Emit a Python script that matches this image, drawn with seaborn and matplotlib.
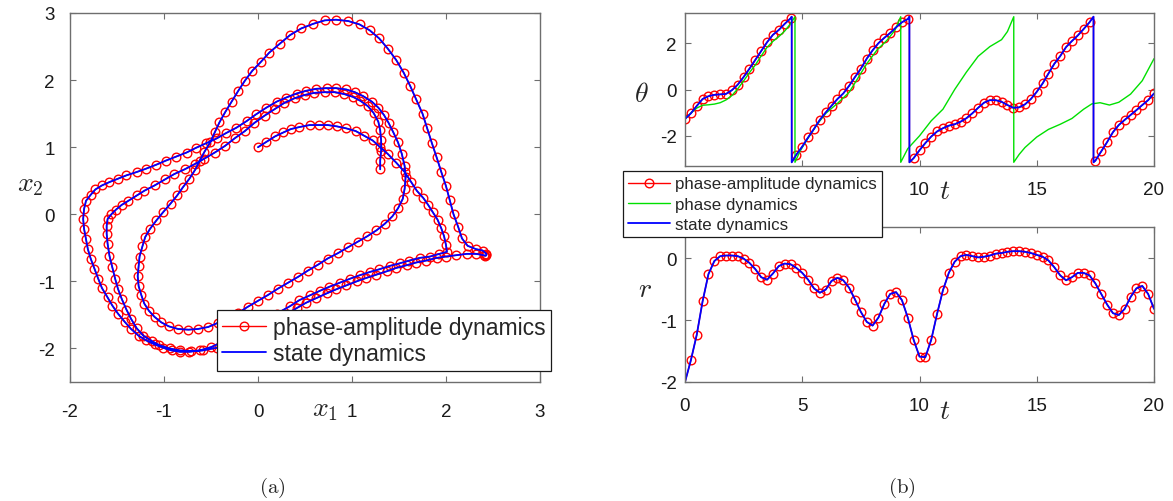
import numpy as np
import pandas as pd
import seaborn as sns
import matplotlib
matplotlib.use("Agg")
import matplotlib.pyplot as plt
from matplotlib.lines import Line2D

# ---------------- data: (a) trajectory in the (x1, x2) plane ----------------
traj_x1 = [
    0.00, 0.09, 0.18, 0.27, 0.35, 0.44, 0.55, 0.65, 0.74, 0.84, 0.94, 1.04, 1.13, 1.22, 1.30, 1.38, 1.47, 1.56,
    1.63, 1.69, 1.76, 1.81, 1.86, 1.91, 1.95, 1.98, 2.00, 2.01,
    1.93, 1.83, 1.72, 1.61, 1.51, 1.40, 1.29, 1.19, 1.08, 0.98, 0.87, 0.76, 0.66, 0.55, 0.44, 0.34,
    0.20, 0.05, -0.09, -0.23, -0.37, -0.50,
    -0.62, -0.73, -0.83, -0.92, -1.01, -1.10, -1.19, -1.27, -1.35, -1.42, -1.49, -1.55, -1.60, -1.66, -1.70,
    -1.74, -1.78, -1.81, -1.83, -1.85, -1.86, -1.85, -1.83, -1.78, -1.73, -1.66, -1.58, -1.49, -1.40, -1.29,
    -1.19, -1.08, -0.98, -0.87, -0.76, -0.66, -0.55, -0.44, -0.34, -0.23, -0.12, -0.02, 0.09, 0.20, 0.30,
    0.41, 0.51, 0.62, 0.73, 0.83, 0.94, 1.03, 1.12, 1.21, 1.28, 1.34, 1.39, 1.44, 1.49, 1.53, 1.56, 1.57,
    1.56, 1.54, 1.49, 1.43, 1.35, 1.26, 1.16, 1.06, 0.96, 0.85, 0.74, 0.64, 0.53, 0.43, 0.32, 0.21, 0.11,
    0.00, -0.11, -0.21, -0.32, -0.43, -0.53, -0.64, -0.74, -0.85, -0.95, -1.03, -1.10, -1.16, -1.21, -1.24,
    -1.27, -1.28, -1.27, -1.26, -1.23, -1.20, -1.15, -1.08, -1.01, -0.93, -0.86, -0.80, -0.73, -0.67, -0.62,
    -0.57, -0.51, -0.46, -0.41, -0.35, -0.28, -0.21, -0.14, -0.06, 0.03, 0.12, 0.23, 0.34, 0.46, 0.59, 0.71,
    0.83, 0.96, 1.08, 1.19, 1.29, 1.38, 1.47, 1.55, 1.62, 1.68, 1.75, 1.80, 1.85, 1.90, 1.95, 2.00, 2.04,
    2.08, 2.13, 2.17, 2.23, 2.32, 2.39, 2.43, 2.43, 2.42, 2.40,
    2.32, 2.22, 2.11, 2.00, 1.90, 1.79, 1.68, 1.58, 1.47, 1.37, 1.26, 1.15, 1.05, 0.94, 0.83, 0.73, 0.62,
    0.51, 0.41, 0.27, 0.12, -0.02, -0.16, -0.30, -0.44, -0.59, -0.71, -0.83,
    -0.94, -1.05, -1.13, -1.22, -1.29, -1.35, -1.40, -1.45, -1.49, -1.52, -1.55, -1.58, -1.60, -1.61, -1.61,
    -1.60, -1.56, -1.51, -1.45, -1.38, -1.29, -1.21, -1.10, -0.99, -0.89, -0.78, -0.67, -0.57, -0.46, -0.35,
    -0.25, -0.14, -0.04, 0.07, 0.18, 0.28, 0.39, 0.50, 0.60, 0.71, 0.82, 0.92, 1.01, 1.09, 1.17, 1.23, 1.28,
    1.30, 1.31, 1.31, 1.30, 1.30,
]
traj_x2 = [
    1.00, 1.08, 1.16, 1.22, 1.27, 1.30, 1.33, 1.33, 1.33, 1.31, 1.28, 1.24, 1.17, 1.10, 1.00, 0.90, 0.77, 0.63,
    0.48, 0.35, 0.24, 0.14, 0.03, -0.08, -0.21, -0.33, -0.46, -0.56,
    -0.59, -0.63, -0.65, -0.69, -0.73, -0.77, -0.82, -0.86, -0.91, -0.96, -1.02, -1.08, -1.14, -1.21, -1.28, -1.37,
    -1.48, -1.60, -1.71, -1.82, -1.90, -1.98,
    -2.03, -2.05, -2.05, -2.03, -1.99, -1.94, -1.88, -1.81, -1.71, -1.60, -1.48, -1.36, -1.24, -1.10, -0.96,
    -0.81, -0.66, -0.52, -0.37, -0.22, -0.07, 0.08, 0.20, 0.29, 0.37, 0.43, 0.48, 0.53, 0.58, 0.63,
    0.68, 0.74, 0.80, 0.86, 0.92, 0.99, 1.06, 1.13, 1.21, 1.29, 1.39, 1.49, 1.59, 1.68, 1.74,
    1.80, 1.84, 1.87, 1.88, 1.88, 1.86, 1.82, 1.76, 1.68, 1.59, 1.48, 1.36, 1.22, 1.07, 0.90, 0.72, 0.55,
    0.38, 0.23, 0.09, -0.03, -0.14, -0.24, -0.33, -0.41, -0.49, -0.58, -0.66, -0.75, -0.84, -0.93, -1.02, -1.11, -1.20,
    -1.29, -1.38, -1.47, -1.55, -1.62, -1.68, -1.71, -1.72, -1.71, -1.67, -1.61, -1.53, -1.44, -1.33, -1.21,
    -1.07, -0.92, -0.77, -0.63, -0.48, -0.34, -0.22, -0.09, 0.03, 0.16, 0.28, 0.40, 0.53, 0.66, 0.80,
    0.93, 1.07, 1.22, 1.37, 1.52, 1.68, 1.84, 1.99, 2.14, 2.27, 2.41, 2.54, 2.67, 2.77, 2.84, 2.89,
    2.90, 2.88, 2.83, 2.74, 2.62, 2.47, 2.30, 2.11, 1.91, 1.72, 1.50, 1.28, 1.06, 0.85, 0.63, 0.42, 0.21,
    0.00, -0.19, -0.36, -0.47, -0.52, -0.54, -0.59, -0.61, -0.62, -0.61,
    -0.59, -0.59, -0.61, -0.63, -0.65, -0.69, -0.72, -0.76, -0.80, -0.85, -0.90, -0.95, -1.00, -1.06, -1.12, -1.18, -1.25,
    -1.32, -1.40, -1.52, -1.63, -1.74, -1.85, -1.93, -1.99, -2.03, -2.04, -2.03,
    -2.00, -1.95, -1.89, -1.81, -1.70, -1.56, -1.42, -1.26, -1.11, -0.96, -0.79, -0.62, -0.44, -0.29, -0.17,
    -0.07, 0.00, 0.07, 0.14, 0.20, 0.28, 0.35, 0.43, 0.52, 0.60, 0.67, 0.75, 0.83, 0.92, 1.02,
    1.13, 1.24, 1.36, 1.47, 1.57, 1.66, 1.73, 1.78, 1.81, 1.82, 1.82, 1.79, 1.75, 1.69, 1.61, 1.51, 1.38,
    1.25, 1.10, 0.95, 0.80, 0.67,
]

# ---------------- data: (b) phase and amplitude versus time ----------------
t_samples = [0.25 * k for k in range(81)]
theta_pa = [
    -1.27, -1.03, -0.71, -0.41, -0.29, -0.23, -0.21, -0.19, -0.03, 0.21, 0.54, 0.90, 1.28, 1.66, 2.04, 2.36, 2.57,
    2.83, 3.07, -2.81, -2.46, -2.07, -1.70, -1.31, -0.99, -0.70, -0.41, -0.17, 0.16, 0.54, 0.90, 1.33, 1.69,
    2.00, 2.23, 2.44, 2.68, 2.90, 3.04, -2.96, -2.62, -2.31, -2.03, -1.81, -1.67, -1.56, -1.50, -1.39, -1.24,
    -1.03, -0.79, -0.57, -0.46, -0.46, -0.53, -0.67, -0.79, -0.77, -0.64, -0.41, -0.10, 0.26, 0.69, 1.11, 1.44,
    1.83, 2.09, 2.33, 2.61, 2.90, -3.07, -2.67, -2.27, -1.84, -1.53, -1.31, -1.10, -0.89, -0.67, -0.46, -0.17,
]
theta_wrap_t = [4.55, 9.57, 17.42]

phase_t = [
    0, 0.25, 0.5, 0.75, 1.0, 1.25, 1.5, 1.75, 2.0, 2.25, 2.5, 2.75, 3.0, 3.25, 3.5, 3.75, 4.0, 4.25, 4.5, 4.69,
    4.69, 4.9, 5.2, 5.6, 6.0, 6.5, 7.0, 7.3, 7.75, 8.2, 8.6, 8.95, 9.2,
    9.2, 9.5, 10.0, 10.5, 11.0, 11.5, 12.0, 12.5, 13.0, 13.5, 13.75, 14.02,
    14.02, 14.25, 14.5, 15.0, 15.5, 16.0, 16.5, 17.0, 17.35, 17.7, 18.1, 18.5, 19.0, 19.5, 20.0,
]
phase_theta = [
    -1.27, -1.02, -0.80, -0.68, -0.66, -0.63, -0.57, -0.45, -0.26, 0.03, 0.37, 0.73, 1.06, 1.45, 1.82, 2.08,
    2.28, 2.52, 2.84, 3.14,
    -3.14, -2.67, -2.17, -1.55, -1.03, -0.60, -0.12, 0.37, 1.11, 1.72, 2.11, 2.55, 3.14,
    -3.14, -2.55, -2.00, -1.35, -0.85, 0.00, 0.75, 1.43, 1.85, 2.15, 2.50, 3.14,
    -3.14, -2.80, -2.50, -2.05, -1.72, -1.50, -1.25, -0.85, -0.62, -0.57, -0.67, -0.55, -0.20, 0.38, 1.33,
]

r_pa = [
    -2.00, -1.65, -1.24, -0.70, -0.26, -0.05, 0.03, 0.04, 0.04, 0.03, -0.01, -0.08, -0.18, -0.31, -0.35, -0.25,
    -0.13, -0.09, -0.10, -0.16, -0.24, -0.35, -0.49, -0.56, -0.51, -0.37, -0.32, -0.36, -0.48, -0.67, -0.87,
    -1.03, -1.09, -0.96, -0.74, -0.58, -0.55, -0.68, -0.96, -1.32, -1.59, -1.60, -1.32, -0.90, -0.52, -0.24,
    -0.06, 0.03, 0.05, 0.03, 0.01, 0.02, 0.04, 0.07, 0.08, 0.10, 0.11, 0.11, 0.10, 0.08, 0.05, 0.02, -0.04,
    -0.15, -0.28, -0.36, -0.31, -0.24, -0.24, -0.28, -0.41, -0.58, -0.75, -0.89, -0.92, -0.82, -0.63, -0.49,
    -0.45, -0.58, -0.82,
]

xticks_a = [-2, -1, 0, 1, 2, 3]
yticks_a = [-2, -1, 0, 1, 2, 3]
xticks_b = [0, 5, 10, 15, 20]
xticklabels_theta = ["", "", "10", "15", "20"]   # 0 and 5 sit under the legend
yticks_theta = [-2, 0, 2]
yticks_r = [-2, -1, 0]
labels_a = ["phase-amplitude dynamics", "state dynamics"]
labels_b = ["phase-amplitude dynamics", "phase dynamics", "state dynamics"]

# ---------------- style ----------------
sns.set_theme(style="white")
plt.rcParams["font.family"] = ["Liberation Sans", "DejaVu Sans"]
plt.rcParams["mathtext.fontset"] = "cm"
plt.rcParams.update({
    "axes.unicode_minus": False,
    "xtick.direction": "in", "ytick.direction": "in",
    "xtick.bottom": True, "ytick.left": True, "xtick.top": True, "ytick.right": True,
    "xtick.major.size": 4.5, "ytick.major.size": 4.5,
    "xtick.major.width": 0.8, "ytick.major.width": 0.8,
    "xtick.color": "#6e6e6e", "ytick.color": "#6e6e6e",
    "xtick.labelcolor": "#1a1a1a", "ytick.labelcolor": "#1a1a1a",
    "axes.edgecolor": "#6e6e6e", "axes.linewidth": 1.0,
})

RED, GREEN, BLUE = "#ff0000", "#00e000", "#0000ff"
mk = dict(marker="o", markersize=6.2, markerfacecolor="none", markeredgecolor=RED, markeredgewidth=1.0)

fig = plt.figure(figsize=(11.73, 5.02), dpi=100)
W, H = 1173, 502
ax_a = fig.add_axes([70 / W, 1 - 383 / H, 470 / W, 369 / H])
ax_r = fig.add_axes([685 / W, 1 - 383 / H, 469 / W, 155 / H])
ax_t = fig.add_axes([685 / W, 1 - 167 / H, 469 / W, 153 / H])
ax_t.set_zorder(5)

# ---------------- (a) ----------------
df_a = pd.DataFrame({"x1": traj_x1, "x2": traj_x2})
sns.lineplot(data=df_a, x="x1", y="x2", sort=False, estimator=None, ax=ax_a,
             color=RED, lw=1.0, **mk)
sns.lineplot(data=df_a, x="x1", y="x2", sort=False, estimator=None, ax=ax_a,
             color=BLUE, lw=1.3)
ax_a.set_xlim(-2, 3)
ax_a.set_ylim(-2.5, 3)
ax_a.set_xticks(xticks_a)
ax_a.set_yticks(yticks_a)
ax_a.tick_params(labelsize=13.5)
ax_a.tick_params(axis="x", pad=15)
ax_a.tick_params(axis="y", pad=11)
ax_a.set_xlabel("$x_1$", fontsize=20, ha="center", va="center")
ax_a.xaxis.set_label_coords(0.543, -0.073)
ax_a.set_ylabel("$x_2$", fontsize=20, rotation=0, ha="center", va="center")
ax_a.yaxis.set_label_coords(-0.085, 0.537)
h_a = [Line2D([], [], color=RED, lw=1.0, **mk), Line2D([], [], color=BLUE, lw=1.3)]
leg_a = ax_a.legend(h_a, labels_a, loc="lower left", bbox_to_anchor=(0.312, 0.030), borderaxespad=0,
                    fontsize=16.5, frameon=True, fancybox=False, edgecolor="#1a1a1a", framealpha=1,
                    handlelength=1.9, handletextpad=0.3, labelspacing=0.15, borderpad=0.25)
leg_a.get_frame().set_linewidth(0.9)

# ---------------- (b) theta ----------------
t_line, th_line = [], []
w = 0
for t, v in zip(t_samples, theta_pa):
    while w < len(theta_wrap_t) and theta_wrap_t[w] < t:
        t_line += [theta_wrap_t[w], theta_wrap_t[w]]
        th_line += [np.pi, -np.pi]
        w += 1
    t_line.append(t)
    th_line.append(v)
df_line = pd.DataFrame({"t": t_line, "theta": th_line})
df_mk = pd.DataFrame({"t": t_samples, "theta": theta_pa})
df_ph = pd.DataFrame({"t": phase_t, "theta": phase_theta})

sns.lineplot(data=df_line, x="t", y="theta", sort=False, estimator=None, ax=ax_t, color=RED, lw=1.0)
sns.lineplot(data=df_mk, x="t", y="theta", sort=False, estimator=None, ax=ax_t, color=RED,
             linestyle="none", **mk)
sns.lineplot(data=df_ph, x="t", y="theta", sort=False, estimator=None, ax=ax_t, color=GREEN, lw=1.0)
sns.lineplot(data=df_line, x="t", y="theta", sort=False, estimator=None, ax=ax_t, color=BLUE, lw=1.3)
ax_t.set_xlim(0, 20)
ax_t.set_ylim(-3.3, 3.3)
ax_t.set_xticks(xticks_b)
ax_t.set_xticklabels(xticklabels_theta)
ax_t.set_yticks(yticks_theta)
ax_t.tick_params(labelsize=13.5)
ax_t.tick_params(axis="x", pad=11)
ax_t.tick_params(axis="y", pad=6)
ax_t.set_xlabel("$t$", fontsize=20, ha="center", va="center")
ax_t.xaxis.set_label_coords(0.554, -0.163)
ax_t.set_ylabel(r"$\theta$", fontsize=20, rotation=0, ha="center", va="center")
ax_t.yaxis.set_label_coords(-0.094, 0.471)
h_b = [Line2D([], [], color=RED, lw=1.0, **mk), Line2D([], [], color=GREEN, lw=1.0),
       Line2D([], [], color=BLUE, lw=1.3)]
leg_b = ax_t.legend(h_b, labels_b, loc="upper left", bbox_to_anchor=(-0.133, -0.035), borderaxespad=0,
                    fontsize=12.2, frameon=True, fancybox=False, edgecolor="#1a1a1a", framealpha=1,
                    handlelength=2.5, handletextpad=0.3, labelspacing=0.3, borderpad=0.3)
leg_b.get_frame().set_linewidth(0.9)

# ---------------- (b) r ----------------
df_r = pd.DataFrame({"t": t_samples, "r": r_pa})
sns.lineplot(data=df_r, x="t", y="r", sort=False, estimator=None, ax=ax_r, color=RED, lw=1.0,
             markevery=list(range(1, len(r_pa))), **mk)
sns.lineplot(data=df_r, x="t", y="r", sort=False, estimator=None, ax=ax_r, color=BLUE, lw=1.3)
ax_r.set_xlim(0, 20)
ax_r.set_ylim(-2, 0.5)
ax_r.set_xticks(xticks_b)
ax_r.set_yticks(yticks_r)
ax_r.tick_params(labelsize=13.5)
ax_r.tick_params(axis="x", pad=11)
ax_r.tick_params(axis="y", pad=6)
ax_r.set_xlabel("$t$", fontsize=20, ha="center", va="center")
ax_r.xaxis.set_label_coords(0.554, -0.187)
ax_r.set_ylabel("$r$", fontsize=20, rotation=0, ha="center", va="center")
ax_r.yaxis.set_label_coords(-0.085, 0.60)
if ax_r.get_legend() is not None:
    ax_r.get_legend().remove()

for ax in (ax_a, ax_t, ax_r):
    for s in ax.spines.values():
        s.set_visible(True)

fig.text(272 / W, 1 - 488 / H, r"$\mathrm{(a)}$", fontsize=15, ha="center", va="center")
fig.text(902 / W, 1 - 488 / H, r"$\mathrm{(b)}$", fontsize=15, ha="center", va="center")

fig.savefig("out.png", dpi=100)
